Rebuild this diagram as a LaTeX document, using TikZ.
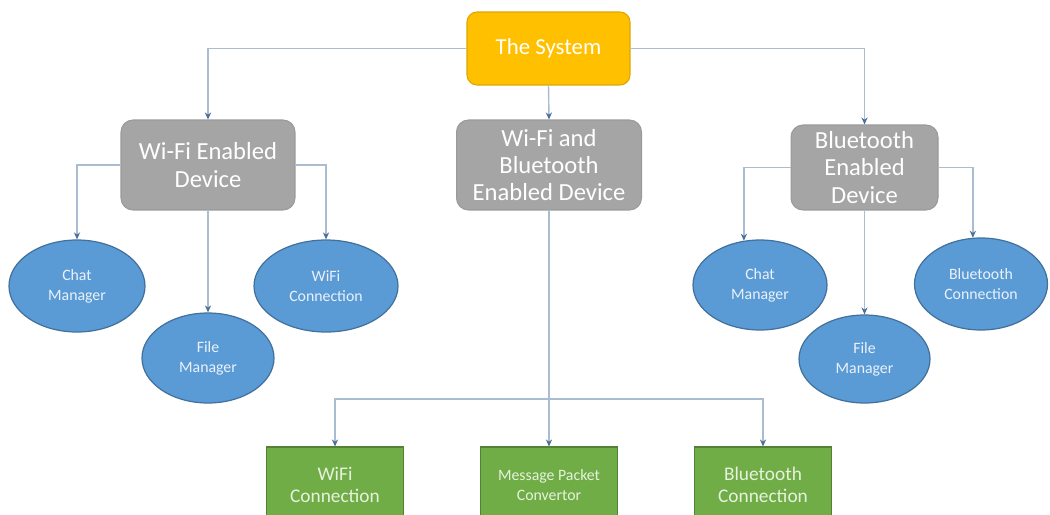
\documentclass[tikz,border=0pt]{standalone}
\usepackage{fontspec}
\setmainfont{Carlito}
\usetikzlibrary{shapes.geometric,arrows.meta}
\definecolor{sysfill}{HTML}{FFC000}
\definecolor{sysdraw}{HTML}{E0A500}
\definecolor{grayfill}{HTML}{A5A5A5}
\definecolor{graydraw}{HTML}{9A9A9A}
\definecolor{bluefill}{HTML}{5B9BD5}
\definecolor{bluedraw}{HTML}{41719C}
\definecolor{greenfill}{HTML}{70AD47}
\definecolor{greendraw}{HTML}{548235}
\definecolor{linecol}{HTML}{A9BCD0}
\definecolor{tipcol}{HTML}{4A6F99}
\definecolor{ellText}{HTML}{EAF1FA}
\definecolor{grnText}{HTML}{E6F2DD}
\tikzset{
  sysbox/.style={draw=sysdraw, fill=sysfill, rounded corners=0.2cm, line width=0.6pt,
    text=white, font=\fontsize{13}{15}\selectfont, align=center, inner sep=0pt},
  devbox/.style={draw=graydraw, fill=grayfill, rounded corners=0.24cm, line width=0.6pt,
    text=white, font=\fontsize{14}{15.5}\selectfont, align=center, inner sep=0pt},
  modell/.style={ellipse, draw=bluedraw, fill=bluefill, line width=0.7pt,
    text=ellText, font=\fontsize{9}{11.5}\selectfont, align=center, inner sep=0pt},
  grnbox/.style={draw=greendraw, fill=greenfill, line width=0.6pt,
    text=grnText, align=center, inner sep=0pt, minimum width=2.74cm, minimum height=1.52cm},
  conn/.style={draw=linecol, line width=0.8pt, -{Stealth[length=4pt,width=3.5pt,color=tipcol]}},
  plainconn/.style={draw=linecol, line width=0.8pt}
}
\begin{document}
\begin{tikzpicture}[x=0.02cm, y=-0.02cm]
\clip (0,0) rectangle (1050,514);
\fill[white] (0,0) rectangle (1050,514);

\node[sysbox, minimum width=3.26cm, minimum height=1.46cm] (sys) at (548.5,48.5) {The System};

\node[devbox, minimum width=3.48cm, minimum height=1.8cm] (wfd) at (208,165) {Wi-Fi Enabled\\Device};
\node[devbox, minimum width=3.7cm, minimum height=1.8cm] (wbd) at (549,165) {Wi-Fi and\\Bluetooth\\Enabled Device};
\node[devbox, minimum width=2.94cm, minimum height=1.7cm] (btd) at (864.5,167.5) {Bluetooth\\Enabled\\Device};

\node[modell, minimum width=2.72cm, minimum height=1.84cm] (el1) at (77,286) {Chat\\Manager};
\node[modell, minimum width=2.64cm, minimum height=1.8cm] (el2) at (208,358) {File\\Manager};
\node[modell, minimum width=2.88cm, minimum height=1.84cm] (el3) at (326,286) {WiFi\\Connection};

\node[modell, minimum width=2.68cm, minimum height=1.8cm] (er1) at (760,285) {Chat\\Manager};
\node[modell, minimum width=2.62cm, minimum height=1.76cm] (er2) at (864.5,359) {File\\Manager};
\node[modell, minimum width=2.66cm, minimum height=1.84cm] (er3) at (981,284) {Bluetooth\\Connection};

\node[grnbox, font=\fontsize{11}{12.5}\selectfont] (g1) at (335,485) {WiFi\\Connection};
\node[grnbox, font=\fontsize{9}{11.5}\selectfont] (g2) at (549,485) {Message Packet\\Convertor};
\node[grnbox, font=\fontsize{11}{12.5}\selectfont] (g3) at (763,485) {Bluetooth\\Connection};

\coordinate (bus) at (0,399);

% top level
\draw[conn] (sys.west) -| (wfd.north);
\draw[conn] (sys.east) -| (btd.north);
\draw[conn] (sys.south) -- (wbd.north);

% Wi-Fi enabled device
\draw[conn] (wfd.west) -| (el1.north);
\draw[conn] (wfd.east) -| (el3.north);
\draw[conn] (wfd.south) -- (el2.north);

% Bluetooth enabled device
\draw[conn] (btd.west) -| (er1.110);
\draw[conn] (btd.east) -| (er3.100);
\draw[conn] (btd.south) -- (er2.north);

% Wi-Fi and Bluetooth device
\draw[conn] (wbd.south) -- (g2.north);
\draw[conn] (wbd.south) -- (wbd.south |- bus) -| (g1.north);
\draw[conn] (wbd.south) -- (wbd.south |- bus) -| (g3.north);
\end{tikzpicture}
\end{document}
